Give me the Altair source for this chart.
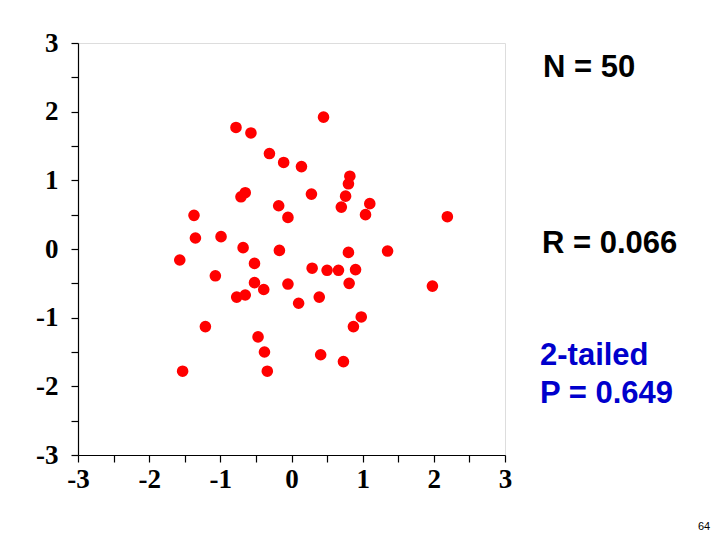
import altair as alt
import pandas as pd

x_vals = [0.45, -0.78, -0.57, -0.31, -0.11, 0.14, 0.82, 0.80, 0.76, 0.70,
          1.10, 1.04, -0.65, -0.71, 0.28, -0.18, -0.05, 2.19, -1.37, -1.35,
          -0.99, -0.68, -0.17, 0.80, 1.35, -1.57, -0.52, -1.07, 0.29, 0.50,
          0.66, 0.90, 0.81, 1.98, -0.52, -0.39, -0.05, -0.77, -0.65, 0.10,
          0.39, 0.98, 0.87, -1.21, -0.47, -0.38, 0.41, 0.73, -1.53, -0.34]
y_vals = [1.92, 1.77, 1.69, 1.39, 1.26, 1.20, 1.06, 0.95, 0.77, 0.61,
          0.66, 0.50, 0.82, 0.76, 0.80, 0.63, 0.46, 0.47, 0.49, 0.16,
          0.18, 0.02, -0.02, -0.05, -0.03, -0.16, -0.21, -0.39, -0.28, -0.31,
          -0.31, -0.30, -0.50, -0.54, -0.49, -0.59, -0.51, -0.70, -0.67, -0.79,
          -0.70, -0.99, -1.13, -1.13, -1.28, -1.50, -1.54, -1.64, -1.78, -1.78]

tick_values = [-3, -2.5, -2, -1.5, -1, -0.5, 0, 0.5, 1, 1.5, 2, 2.5, 3]

df = pd.DataFrame({"x": x_vals, "y": y_vals})

W, H = 427, 412

axis_common = dict(
    values=tick_values,
    labelExpr="datum.value % 1 == 0 ? '' + datum.value : ''",
    labelOverlap=False,
    labelFlush=False,
    labelBound=False,
    grid=False,
    domainColor="black",
    domainWidth=1.2,
    tickColor="black",
    tickWidth=1.2,
    tickSize=7,
    labelFont="Liberation Serif",
    labelFontWeight="bold",
    labelFontSize=27,
    labelColor="black",
    title=None,
)

points = alt.Chart(df).mark_circle(size=135, color="#ff0000", opacity=1).encode(
    x=alt.X("x:Q", scale=alt.Scale(domain=[-3, 3], nice=False),
            axis=alt.Axis(**axis_common, labelPadding=4)),
    y=alt.Y("y:Q", scale=alt.Scale(domain=[-3, 3], nice=False),
            axis=alt.Axis(**axis_common, labelPadding=13)),
)

def label(text, xpx, ypx, color="black", size=31, weight="bold", font="Liberation Sans"):
    return alt.Chart(pd.DataFrame({"t": [text]})).mark_text(
        align="left", baseline="alphabetic", fontSize=size, fontWeight=weight,
        font=font, color=color, clip=False
    ).encode(x=alt.value(xpx), y=alt.value(ypx), text="t:N")

texts = [
    label("N = 50", 465, 34),
    label("R = 0.066", 464, 210),
    label("2-tailed", 462, 322, color="#0000cc"),
    label("P = 0.649", 462, 360, color="#0000cc"),
    label("64", 620, 487, size=11, weight="normal"),
]

chart = alt.layer(points, *texts).properties(
    width=W, height=H,
    autosize=alt.AutoSizeParams(type="none"),
    padding={"left": 70, "top": 35, "right": 207, "bottom": 80},
).configure_view(stroke=None).configure(background="white")

chart.save("out.html", embed_options={"renderer": "svg", "actions": False})
